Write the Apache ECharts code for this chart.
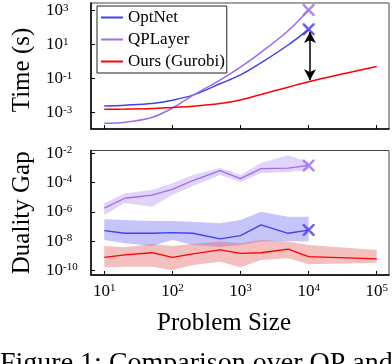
<!DOCTYPE html>
<html>
<head>
<meta charset="utf-8">
<script src="https://cdn.jsdelivr.net/npm/echarts@6/dist/echarts.min.js"></script>
<style>
  html, body { margin: 0; padding: 0; background: #fff; }
  #main { width: 392px; height: 364px; }
</style>
</head>
<body>
<div id="main"></div>
<script>
// problem sizes (raw) and measured values as log10 exponents
var sizes = [10, 20, 50, 100, 200, 500, 1000, 2000, 5000, 10000];
var oursSizes = [10, 20, 50, 100, 200, 500, 1000, 2000, 5000, 10000, 100000];

// Time (s), log10
var optnetTime = [-2.61, -2.56, -2.46, -2.27, -1.97, -1.30, -0.78, -0.07, 0.98, 1.90];
var qplayerTime = [-3.62, -3.56, -3.28, -2.73, -1.98, -1.08, -0.32, 0.55, 1.82, 3.04];
var oursTime = [-2.80, -2.79, -2.76, -2.69, -2.62, -2.46, -2.25, -1.93, -1.50, -1.18, -0.29];

// Duality gap, log10 (mean, lower, upper)
var qplayerGap = [-5.75, -5.07, -4.85, -4.46, -3.86, -3.18, -3.73, -3.05, -3.02, -2.83];
var qplayerGapLo = [-6.21, -5.39, -5.65, -4.85, -4.23, -3.48, -3.96, -3.34, -3.28, -3.14];
var qplayerGapHi = [-5.41, -4.73, -4.51, -4.05, -3.48, -3.00, -3.48, -2.66, -2.14, -2.59];
var optnetGap = [-7.28, -7.46, -7.46, -7.42, -7.46, -7.85, -7.62, -6.89, -7.46, -7.24];
var optnetGapLo = [-7.92, -8.14, -8.33, -7.92, -8.26, -8.40, -8.26, -8.03, -7.99, -8.03];
var optnetGapHi = [-6.51, -6.55, -6.62, -6.62, -6.67, -6.78, -6.55, -5.99, -6.33, -6.33];
var oursGap = [-9.10, -8.94, -8.79, -9.10, -8.87, -8.60, -8.83, -8.79, -8.55, -9.06, -9.21];
var oursGapLo = [-9.78, -9.74, -9.74, -9.97, -9.62, -9.40, -9.78, -9.28, -9.17, -9.58, -9.47];
var oursGapHi = [-8.33, -8.42, -8.19, -8.33, -8.19, -8.03, -8.14, -7.92, -8.03, -8.26, -8.60];

// tick exponents
var xTicks = [1, 2, 3, 4, 5];
var timeTicks = [-3, -1, 1, 3];
var gapTicks = [-10, -8, -6, -4, -2];

var BLUE = '#4040EE';
var PURPLE = '#9B6CEB';
var RED = '#FF0000';
var FONT = 'Liberation Serif';
var CROSS = 'path://M0,0 L3,0 L10,7 L17,0 L20,0 L20,3 L13,10 L20,17 L20,20 L17,20 L10,13 L3,20 L0,20 L0,17 L7,10 L0,3 Z';

function pts(xs, ys) {
  return ys.map(function (y, i) { return [Math.log10(xs[i]), y]; });
}
function last(xs, ys) {
  var i = ys.length - 1;
  return [Math.log10(xs[i]), ys[i]];
}
function powLabel(v) {
  return '{b|10}{s|' + v + '}';
}
var richPow = {
  b: { fontSize: 17, fontFamily: FONT, color: '#000' },
  s: { fontSize: 11, fontFamily: FONT, color: '#000', verticalAlign: 'top' }
};

// shaded min/max band drawn as one polygon through the grid's coordinate system
function band(xs, lo, hi, color, opacity) {
  var data = xs.map(function (x, i) { return [Math.log10(x), lo[i], hi[i]]; });
  return {
    type: 'custom', xAxisIndex: 1, yAxisIndex: 1, silent: true, z: 1, clip: true,
    encode: { x: 0, y: [1, 2] },
    data: data,
    renderItem: function (params, api) {
      if (params.dataIndex !== 0) return null;
      var poly = [];
      for (var i = 0; i < data.length; i++) poly.push(api.coord([data[i][0], data[i][2]]));
      for (var j = data.length - 1; j >= 0; j--) poly.push(api.coord([data[j][0], data[j][1]]));
      return { type: 'polygon', shape: { points: poly }, style: { fill: color, opacity: opacity } };
    }
  };
}

function xAxisCfg(grid, showLabels) {
  return {
    type: 'value', gridIndex: grid, min: 0.805, max: 5.18,
    axisLine: { show: true, onZero: false, lineStyle: { color: '#000', width: 1.5 } },
    axisTick: { show: true, inside: true, length: 4, customValues: xTicks, lineStyle: { color: '#000' } },
    axisLabel: { show: showLabels, customValues: xTicks, formatter: powLabel, rich: richPow, margin: 8 },
    splitLine: { show: false },
    name: showLabels ? 'Problem Size' : '',
    nameLocation: 'middle', nameGap: 36,
    nameTextStyle: { fontSize: 25, fontFamily: FONT, color: '#000', padding: [0, 32, 0, 0] }
  };
}
function yAxisCfg(grid, min, max, ticks, name, pad) {
  return {
    type: 'value', gridIndex: grid, min: min, max: max,
    axisLine: { show: true, onZero: false, lineStyle: { color: '#000', width: 1.5 } },
    axisTick: { show: true, inside: true, length: 4, customValues: ticks, lineStyle: { color: '#000' } },
    axisLabel: { customValues: ticks, formatter: powLabel, rich: richPow, align: 'left', margin: 45 },
    splitLine: { show: false },
    name: name, nameLocation: 'middle', nameGap: 48,
    nameTextStyle: { fontSize: 25, fontFamily: FONT, color: '#000', padding: pad }
  };
}

var chart = echarts.init(document.getElementById('main'), null, { renderer: 'canvas' });

var series = [
  band(sizes, qplayerGapLo, qplayerGapHi, PURPLE, 0.3),
  band(sizes, optnetGapLo, optnetGapHi, BLUE, 0.3),
  band(oursSizes, oursGapLo, oursGapHi, '#E06060', 0.4),
  { name: 'OptNet', type: 'line', xAxisIndex: 0, yAxisIndex: 0, data: pts(sizes, optnetTime),
    symbol: 'none', smooth: 0.35, lineStyle: { color: BLUE, width: 1.5 }, itemStyle: { color: BLUE }, z: 3 },
  { name: 'QPLayer', type: 'line', xAxisIndex: 0, yAxisIndex: 0, data: pts(sizes, qplayerTime),
    symbol: 'none', smooth: 0.35, lineStyle: { color: PURPLE, width: 1.5 }, itemStyle: { color: PURPLE }, z: 3 },
  { name: 'Ours (Gurobi)', type: 'line', xAxisIndex: 0, yAxisIndex: 0, data: pts(oursSizes, oursTime),
    symbol: 'none', smooth: 0.35, lineStyle: { color: RED, width: 1.5 }, itemStyle: { color: RED }, z: 3,
    markLine: {
      silent: true, symbol: ['arrow', 'arrow'], symbolSize: [9, 11],
      lineStyle: { color: '#000', width: 1.5, type: 'solid' }, label: { show: false },
      data: [[
        { coord: [4.02, optnetTime[optnetTime.length - 1] - 0.15] },
        { coord: [4.02, oursTime[sizes.length - 1] + 0.08] }
      ]]
    } },
  { type: 'line', xAxisIndex: 1, yAxisIndex: 1, data: pts(sizes, qplayerGap),
    symbol: 'none', lineStyle: { color: PURPLE, width: 1.3 }, z: 3 },
  { type: 'line', xAxisIndex: 1, yAxisIndex: 1, data: pts(sizes, optnetGap),
    symbol: 'none', lineStyle: { color: BLUE, width: 1.3 }, z: 3 },
  { type: 'line', xAxisIndex: 1, yAxisIndex: 1, data: pts(oursSizes, oursGap),
    symbol: 'none', lineStyle: { color: RED, width: 1.3 }, z: 3 },
  // end-of-run crosses
  { type: 'scatter', xAxisIndex: 0, yAxisIndex: 0, symbol: CROSS, symbolSize: 12, z: 4,
    itemStyle: { color: PURPLE }, data: [last(sizes, qplayerTime)] },
  { type: 'scatter', xAxisIndex: 0, yAxisIndex: 0, symbol: CROSS, symbolSize: 12, z: 4,
    itemStyle: { color: '#4B3CE6' }, data: [last(sizes, optnetTime)] },
  { type: 'scatter', xAxisIndex: 1, yAxisIndex: 1, symbol: CROSS, symbolSize: 12, z: 4,
    itemStyle: { color: PURPLE }, data: [last(sizes, qplayerGap)] },
  { type: 'scatter', xAxisIndex: 1, yAxisIndex: 1, symbol: CROSS, symbolSize: 12, z: 4,
    itemStyle: { color: '#4B3CE6' }, data: [last(sizes, optnetGap)] }
];

var option = {
  animation: false,
  backgroundColor: '#fff',
  grid: [
    { left: 91, top: 3, width: 298, height: 126, show: true, borderColor: '#444', borderWidth: 1 },
    { left: 91, top: 150.5, width: 298, height: 124.5, show: true, borderColor: '#444', borderWidth: 1 }
  ],
  legend: {
    data: ['OptNet', 'QPLayer', 'Ours (Gurobi)'],
    orient: 'vertical', left: 97, top: 6,
    padding: [3, 2, 3, 3], itemGap: 5, itemWidth: 22, itemHeight: 14,
    borderColor: '#222', borderWidth: 1, backgroundColor: '#fff',
    itemStyle: { opacity: 0 },
    textStyle: { fontSize: 17, fontFamily: FONT, color: '#000' }
  },
  xAxis: [xAxisCfg(0, false), xAxisCfg(1, true)],
  yAxis: [
    yAxisCfg(0, -3.96, 3.45, timeTicks, 'Time (s)', [0, 8, 0, 0]),
    yAxisCfg(1, -10.31, -1.81, gapTicks, 'Duality Gap', [0, 0, 0, 0])
  ],
  graphic: [{
    type: 'text', left: 0, top: 350,
    style: { text: 'Figure 1: Comparison over QP and', fontSize: 28, fontFamily: FONT, fill: '#000' }
  }],
  series: series
};

chart.setOption(option);
window.addEventListener('resize', chart.resize);
</script>
</body>
</html>
